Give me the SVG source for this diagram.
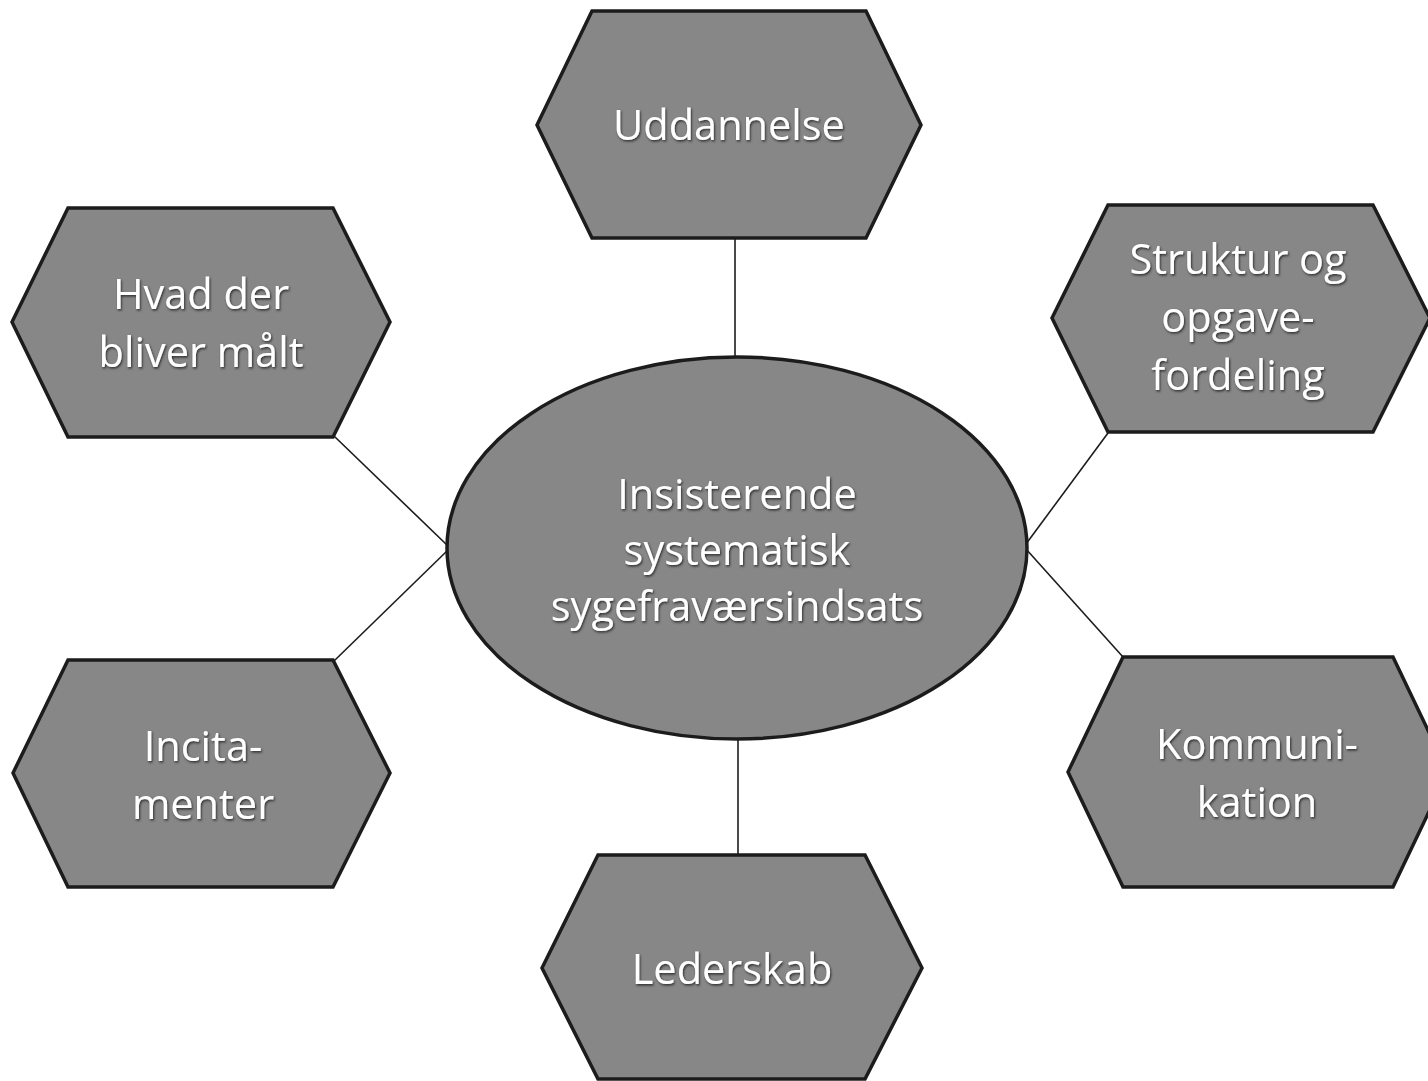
<svg xmlns="http://www.w3.org/2000/svg" width="1428" height="1081" viewBox="0 0 1428 1081">
  <defs>
    <filter id="shadow" x="-10%" y="-10%" width="120%" height="130%">
      <feDropShadow dx="1" dy="1.5" stdDeviation="0.8" flood-color="#222" flood-opacity="0.9"/>
    </filter>
  </defs>
  <style>
    .shape { fill: #878787; stroke: #1c1c1c; stroke-width: 3.5; stroke-linejoin: miter; }
    .label { fill: #ffffff; font-family: "Open Sans", "Noto Sans", sans-serif; font-size: 41.5px; text-anchor: middle; filter: url(#shadow); }
    .conn { stroke: #1c1c1c; stroke-width: 1.6; fill: none; }
  </style>
  <rect width="1428" height="1081" fill="#ffffff"/>

  <g id="connectors">
    <line class="conn" x1="735" y1="238" x2="735" y2="357"/>
    <line class="conn" x1="738" y1="739" x2="738" y2="855"/>
    <line class="conn" x1="334" y1="436" x2="448" y2="546"/>
    <line class="conn" x1="334" y1="661" x2="448" y2="550"/>
    <line class="conn" x1="1108" y1="433" x2="1026" y2="544"/>
    <line class="conn" x1="1123" y1="657" x2="1026" y2="549"/>
  </g>

  <g id="node-center">
    <ellipse class="shape" cx="737" cy="548" rx="290" ry="191"/>
    <text class="label"><tspan x="737" y="509">Insisterende</tspan><tspan x="737" y="565">systematisk</tspan><tspan x="737" y="621">sygefraværsindsats</tspan></text>
  </g>

  <g id="node-uddannelse">
    <polygon class="shape" points="537,125 592,11 866,11 921,125 866,238 592,238"/>
    <text class="label" x="729" y="140">Uddannelse</text>
  </g>

  <g id="node-hvad">
    <polygon class="shape" points="12,322 68,208 333,208 390,322 333,437 68,437"/>
    <text class="label"><tspan x="201" y="309">Hvad der</tspan><tspan x="201" y="367">bliver målt</tspan></text>
  </g>

  <g id="node-struktur">
    <polygon class="shape" points="1052,318 1108,205 1373,205 1430,318 1373,432 1108,432"/>
    <text class="label"><tspan x="1238" y="274">Struktur og</tspan><tspan x="1238" y="332">opgave-</tspan><tspan x="1238" y="390">fordeling</tspan></text>
  </g>

  <g id="node-incitamenter">
    <polygon class="shape" points="13,773 68,660 333,660 390,773 333,887 68,887"/>
    <text class="label"><tspan x="203" y="761">Incita-</tspan><tspan x="203" y="819">menter</tspan></text>
  </g>

  <g id="node-kommunikation">
    <polygon class="shape" points="1068,772 1123,657 1393,657 1448,772 1393,887 1123,887"/>
    <text class="label"><tspan x="1257" y="759">Kommuni-</tspan><tspan x="1257" y="817">kation</tspan></text>
  </g>

  <g id="node-lederskab">
    <polygon class="shape" points="542,968 598,855 865,855 922,968 865,1079 598,1079"/>
    <text class="label" x="732" y="984">Lederskab</text>
  </g>
</svg>
